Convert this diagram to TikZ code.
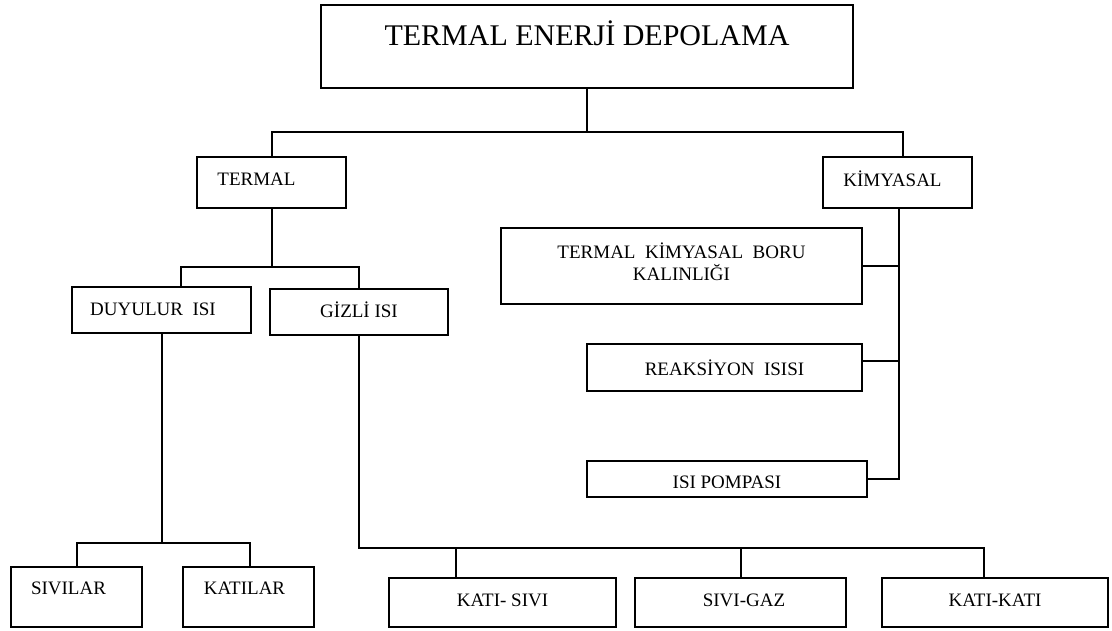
\documentclass[tikz,border=0pt]{standalone}
\usepackage{fontspec}
\setmainfont{Liberation Serif}
\begin{document}
\begin{tikzpicture}[x=1pt,y=-1pt,
  box/.style={draw=black, line width=2.3pt, rectangle, inner sep=0pt,
    font=\rmfamily\fontsize{19}{22}\selectfont},
  conn/.style={draw=black, line width=2pt},
  lbl/.style={font=\rmfamily\fontsize{19}{22}\selectfont, inner sep=0pt}]
\useasboundingbox (0,0) rectangle (1112,630);
% boxes
\node[box, minimum width=532, minimum height=83,
  label={[lbl, font=\rmfamily\fontsize{30}{36}\selectfont, yshift=13.5]center:TERMAL ENERJİ DEPOLAMA}]
  (top) at (587,46.5) {};
\node[box, minimum width=149, minimum height=51,
  label={[lbl, xshift=-15, yshift=3.5]center:TERMAL}] (termal) at (271.5,182.5) {};
\node[box, minimum width=149, minimum height=51,
  label={[lbl, xshift=-5, yshift=3.5]center:KİMYASAL}] (kimyasal) at (897.5,182.5) {};
\node[box, minimum width=179, minimum height=46,
  label={[lbl, xshift=-8.5, yshift=1]center:DUYULUR\ \ ISI}] (duyulur) at (161.5,310) {};
\node[box, minimum width=178, minimum height=46,
  label={[lbl, yshift=2]center:GİZLİ ISI}] (gizli) at (359,312) {};
\node[box, minimum width=361, minimum height=76, align=center,
  label={[lbl, align=center, yshift=4]center:TERMAL\ \ KİMYASAL\ \ BORU\\KALINLIĞI}]
  (boru) at (681.5,266) {};
\node[box, minimum width=275, minimum height=47,
  label={[lbl]center:REAKSİYON\ \ ISISI}] (reaksiyon) at (724.5,367.5) {};
\node[box, minimum width=280, minimum height=36] (pompa) at (727,479) {};
\begin{scope}
  \clip (587,455) rectangle (867,487);
  \node[lbl] (pompatext) at (727,482) {ISI POMPASI};
\end{scope}
\node[box, minimum width=131, minimum height=60,
  label={[lbl, xshift=-8, yshift=9]center:SIVILAR}] (sivilar) at (76.5,597) {};
\node[box, minimum width=131, minimum height=60,
  label={[lbl, xshift=-4, yshift=9]center:KATILAR}] (katilar) at (248.5,597) {};
\node[box, minimum width=227, minimum height=49,
  label={[lbl, yshift=2.5]center:KATI- SIVI}] (katisivi) at (502.5,602.5) {};
\node[box, minimum width=211, minimum height=49,
  label={[lbl, xshift=3.5, yshift=2.5]center:SIVI-GAZ}] (sivigaz) at (740.5,602.5) {};
\node[box, minimum width=226, minimum height=49,
  label={[lbl, yshift=2.5]center:KATI-KATI}] (katikati) at (995,602.5) {};
% junction coordinates
\coordinate (j1) at (587,132);
\coordinate (j1l) at (271.5,132);
\coordinate (j1r) at (903,132);
\coordinate (j2) at (271.5,267);
\coordinate (j2l) at (181,267);
\coordinate (j2r) at (359,267);
\coordinate (j3) at (161.5,543);
\coordinate (j3l) at (76.5,543);
\coordinate (j3r) at (250,543);
\coordinate (j4) at (359,548);
\coordinate (j4a) at (456,548);
\coordinate (j4c) at (984,548);
\coordinate (k1) at (899,266);
\coordinate (k2) at (899,361);
\coordinate (k3) at (899,479);
% connectors
\draw[conn] (top.south) -- (j1);
\draw[conn] (termal.north) -- (j1l) -- (j1r) -- (j1r |- kimyasal.north);
\draw[conn] (termal.south) -- (j2);
\draw[conn] (j2l |- duyulur.north) -- (j2l) -- (j2r) -- (gizli.north);
\draw[conn] (duyulur.south) -- (j3);
\draw[conn] (sivilar.north) -- (j3l) -- (j3r) -- (j3r |- katilar.north);
\draw[conn] (gizli.south) -- (j4) -- (j4c) -- (j4c |- katikati.north);
\draw[conn] (j4a) -- (j4a |- katisivi.north);
\draw[conn] (sivigaz.north |- j4) -- (sivigaz.north);
\draw[conn] (kimyasal.south -| k1) -- (k3) -- (pompa.east);
\draw[conn] (boru.east) -- (boru.east -| k1);
\draw[conn] (reaksiyon.east |- k2) -- (k2);
\end{tikzpicture}
\end{document}
